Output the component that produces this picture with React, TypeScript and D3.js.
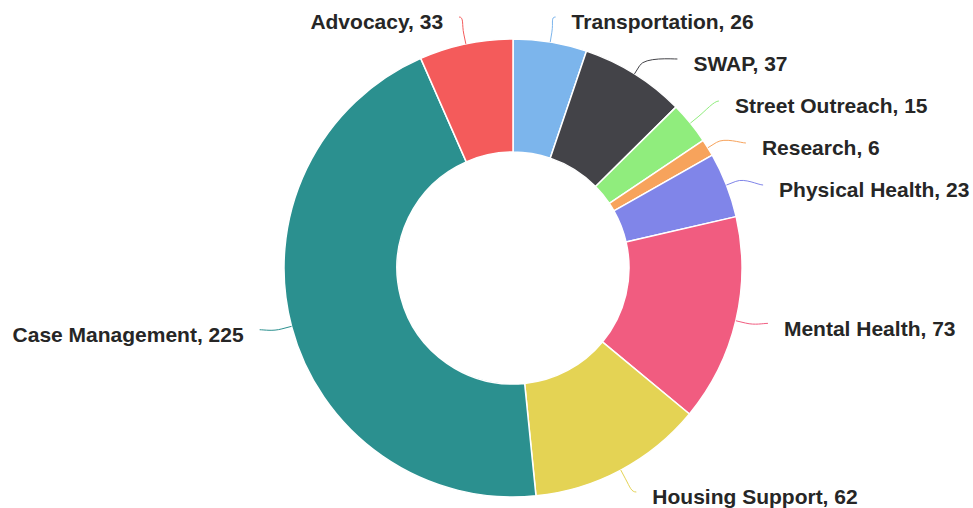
import { useMemo } from "react";
import * as d3 from "d3";

const categories = [
  "Transportation",
  "SWAP",
  "Street Outreach",
  "Research",
  "Physical Health",
  "Mental Health",
  "Housing Support",
  "Case Management",
  "Advocacy",
];
const values = [26, 37, 15, 6, 23, 73, 62, 225, 33];
const colors = [
  "#7cb5ec",
  "#434348",
  "#90ed7d",
  "#f7a35c",
  "#8085e9",
  "#f15c80",
  "#e4d354",
  "#2b908f",
  "#f45b5b",
];

const WIDTH = 973;
const HEIGHT = 508;
const CX = 513;
const CY = 268;
const OUTER = 229;
const INNER = 116;
const LABEL_DIST = 33;
const BREAK_DIST = 10;
const TEXT_PAD = 16;
const LABEL_GAP = 42;
const LABEL_MIN_Y = 22;
const LABEL_MAX_Y = 497;

type Slice = { label: string; value: number; color: string };

export default function App() {
  const data: Slice[] = categories.map((c, i) => ({
    label: c,
    value: values[i],
    color: colors[i],
  }));

  const arcs = useMemo(
    () =>
      d3
        .pie<Slice>()
        .value((d) => d.value)
        .sort(null)(data),
    []
  );

  const arcGen = d3
    .arc<d3.PieArcDatum<Slice>>()
    .innerRadius(INNER)
    .outerRadius(OUTER);

  const labelR = OUTER + LABEL_DIST;

  // label layout, roughly what highcharts does
  const labels = useMemo(() => {
    const items = arcs.map((a, i) => {
      const mid = (a.startAngle + a.endAngle) / 2;
      const left = mid > Math.PI;
      const naturalY = CY - labelR * Math.cos(mid);
      return { i, mid, left, naturalY, y: naturalY, clamped: false };
    });
    for (const side of [false, true]) {
      const group = items
        .filter((d) => d.left === side)
        .sort((a, b) => a.naturalY - b.naturalY);
      let prev = -Infinity;
      for (const d of group) {
        const y = Math.max(d.naturalY, LABEL_MIN_Y, prev + LABEL_GAP);
        if (d.naturalY < LABEL_MIN_Y) d.clamped = true;
        d.y = y;
        prev = y;
      }
      let next = Infinity;
      for (let k = group.length - 1; k >= 0; k--) {
        const d = group[k];
        const y = Math.min(d.y, LABEL_MAX_Y, next - LABEL_GAP);
        if (d.naturalY > LABEL_MAX_Y) d.clamped = true;
        d.y = y;
        next = y;
      }
    }
    return items.map((d) => {
      const refY = d.clamped ? d.naturalY : d.y;
      const dy = Math.max(-labelR, Math.min(labelR, refY - CY));
      const dx = Math.sqrt(labelR * labelR - dy * dy);
      const sign = d.left ? -1 : 1;
      const x = CX + sign * dx;
      const ly = d.y - 5;
      const touch = {
        x: CX + OUTER * Math.sin(d.mid),
        y: CY - OUTER * Math.cos(d.mid),
      };
      const brk = {
        x: CX + (OUTER + BREAK_DIST) * Math.sin(d.mid),
        y: CY - (OUTER + BREAK_DIST) * Math.cos(d.mid),
      };
      const path = `M${x},${ly}C${x - sign * 5},${ly} ${2 * brk.x - touch.x},${
        2 * brk.y - touch.y
      } ${brk.x},${brk.y}L${touch.x},${touch.y}`;
      return {
        ...d,
        x,
        textX: x + sign * TEXT_PAD,
        path,
      };
    });
  }, [arcs]);

  return (
    <div style={{ position: "absolute", left: 0, top: 0 }}>
      <svg width={WIDTH} height={HEIGHT} style={{ display: "block" }}>
        <rect width={WIDTH} height={HEIGHT} fill="#ffffff" />
        <g transform={`translate(${CX},${CY})`}>
          {arcs.map((a, i) => (
            <path
              key={i}
              d={arcGen(a) ?? ""}
              fill={a.data.color}
              stroke="#ffffff"
              strokeWidth={1.5}
              strokeLinejoin="round"
            />
          ))}
        </g>
        {/* connectors */}
        {labels.map((l) => (
          <path
            key={`c${l.i}`}
            d={l.path}
            fill="none"
            stroke={data[l.i].color}
            strokeWidth={1}
          />
        ))}
        {labels.map((l) => (
          <text
            key={`t${l.i}`}
            x={l.textX}
            y={l.y}
            dy="0.35em"
            textAnchor={l.left ? "end" : "start"}
            fontFamily="'Liberation Sans', Arial, sans-serif"
            fontWeight="bold"
            fontSize={21}
            fill="#262626"
          >
            {`${data[l.i].label}, ${data[l.i].value}`}
          </text>
        ))}
      </svg>
    </div>
  );
}
